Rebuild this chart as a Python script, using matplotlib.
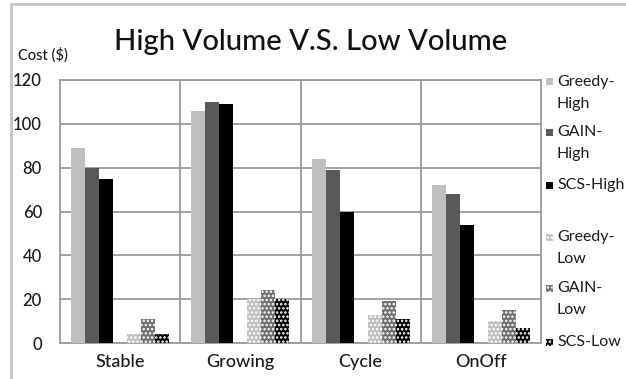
import matplotlib
matplotlib.use('Agg')
from matplotlib import pyplot as plt
from matplotlib.patches import Rectangle
from matplotlib.lines import Line2D
import numpy as np

plt.rcParams['font.family'] = ['Lato', 'DejaVu Sans']
plt.rcParams['hatch.linewidth'] = 1.2

categories = ['Stable', 'Growing', 'Cycle', 'OnOff']

greedy_high = [89, 106, 84, 72]
gain_high = [80, 110, 79, 68]
scs_high = [75, 109, 60, 54]
greedy_low = [4, 20, 13, 10]
gain_low = [11, 24, 19, 15]
scs_low = [4, 20, 11, 7]

series_names = ['Greedy-\nHigh', 'GAIN-\nHigh', 'SCS-High',
                'Greedy-\nLow', 'GAIN-\nLow', 'SCS-Low']
series_values = [greedy_high, gain_high, scs_high, greedy_low, gain_low, scs_low]
series_colors = ['#bfbfbf', '#595959', '#000000', '#bfbfbf', '#6e6e6e', '#000000']
series_hatch = [None, None, None, '....', '....', '....']
# slot 3 is left empty, it separates the high and low groups
series_slot = [0, 1, 2, 4, 5, 6]

W, H = 626, 379
fig = plt.figure(figsize=(W / 100, H / 100), dpi=100)
ax = fig.add_axes([60 / W, 1 - 343 / H, 481 / W, 263 / H])

bar_w = 14 / 120
x = np.arange(len(categories))
for vals, color, hatch, slot in zip(series_values, series_colors, series_hatch, series_slot):
    offs = (slot - 3) * bar_w
    if hatch:
        ax.bar(x + offs, vals, bar_w, color=color, edgecolor='white',
               linewidth=0, hatch=hatch, zorder=3)
    else:
        ax.bar(x + offs, vals, bar_w, color=color, linewidth=0, zorder=3)

text_c = '#1a1a1a'
grid_c = '#9a9a9a'
ax.set_xlim(-0.5, 3.5)
ax.set_ylim(0, 120)
ax.set_yticks(range(0, 121, 20))
ax.set_xticks(x)
ax.set_xticklabels(categories, fontsize=13, color=text_c)
ax.tick_params(axis='y', labelsize=12, length=0, pad=13, colors=text_c)
ax.tick_params(axis='x', length=0, pad=8)
for t in ax.get_yticklabels() + ax.get_xticklabels():
    t.set_fontweight('medium')
ax.yaxis.grid(True, color=grid_c, linewidth=1.3, zorder=0)
for xv in [0.5, 1.5, 2.5]:
    ax.axvline(xv, color=grid_c, linewidth=1.3, zorder=1)
for sp in ax.spines.values():
    sp.set_color(grid_c)
    sp.set_linewidth(1.3)
ax.set_axisbelow(True)

fig.text(311 / W, 1 - 42 / H, 'High Volume V.S. Low Volume', fontsize=21,
         fontweight='medium', ha='center', va='center', color='#111111')
fig.text(18 / W, 1 - 55 / H, 'Cost ($)', fontsize=10.5, fontweight='medium',
         ha='left', va='center', color=text_c)

# legend on the right, handles line up with the first text line
legend_y = [82, 132, 185, 237, 288, 342]
for name, color, hatch, y in zip(series_names, series_colors, series_hatch, legend_y):
    fy = 1 - y / H
    fig.patches.append(Rectangle((546 / W, fy - 3.5 / H), 7 / W, 7 / H,
                                 transform=fig.transFigure, facecolor=color,
                                 edgecolor='white' if hatch else color,
                                 linewidth=0, hatch=hatch))
    for k, line in enumerate(name.split('\n')):
        fig.text(557 / W, 1 - (y + 22 * k) / H, line, fontsize=11.5,
                 ha='left', va='center', color=text_c)

# outer chart frame
fig.add_artist(Line2D([11 / W, 11 / W], [0, 1 - 4 / H], transform=fig.transFigure,
                      color='#c4c4c4', linewidth=2))
fig.add_artist(Line2D([11 / W, 1], [1 - 4 / H, 1 - 4 / H], transform=fig.transFigure,
                      color='#c4c4c4', linewidth=2))

fig.savefig('out.png', dpi=100)
plt.close(fig)
